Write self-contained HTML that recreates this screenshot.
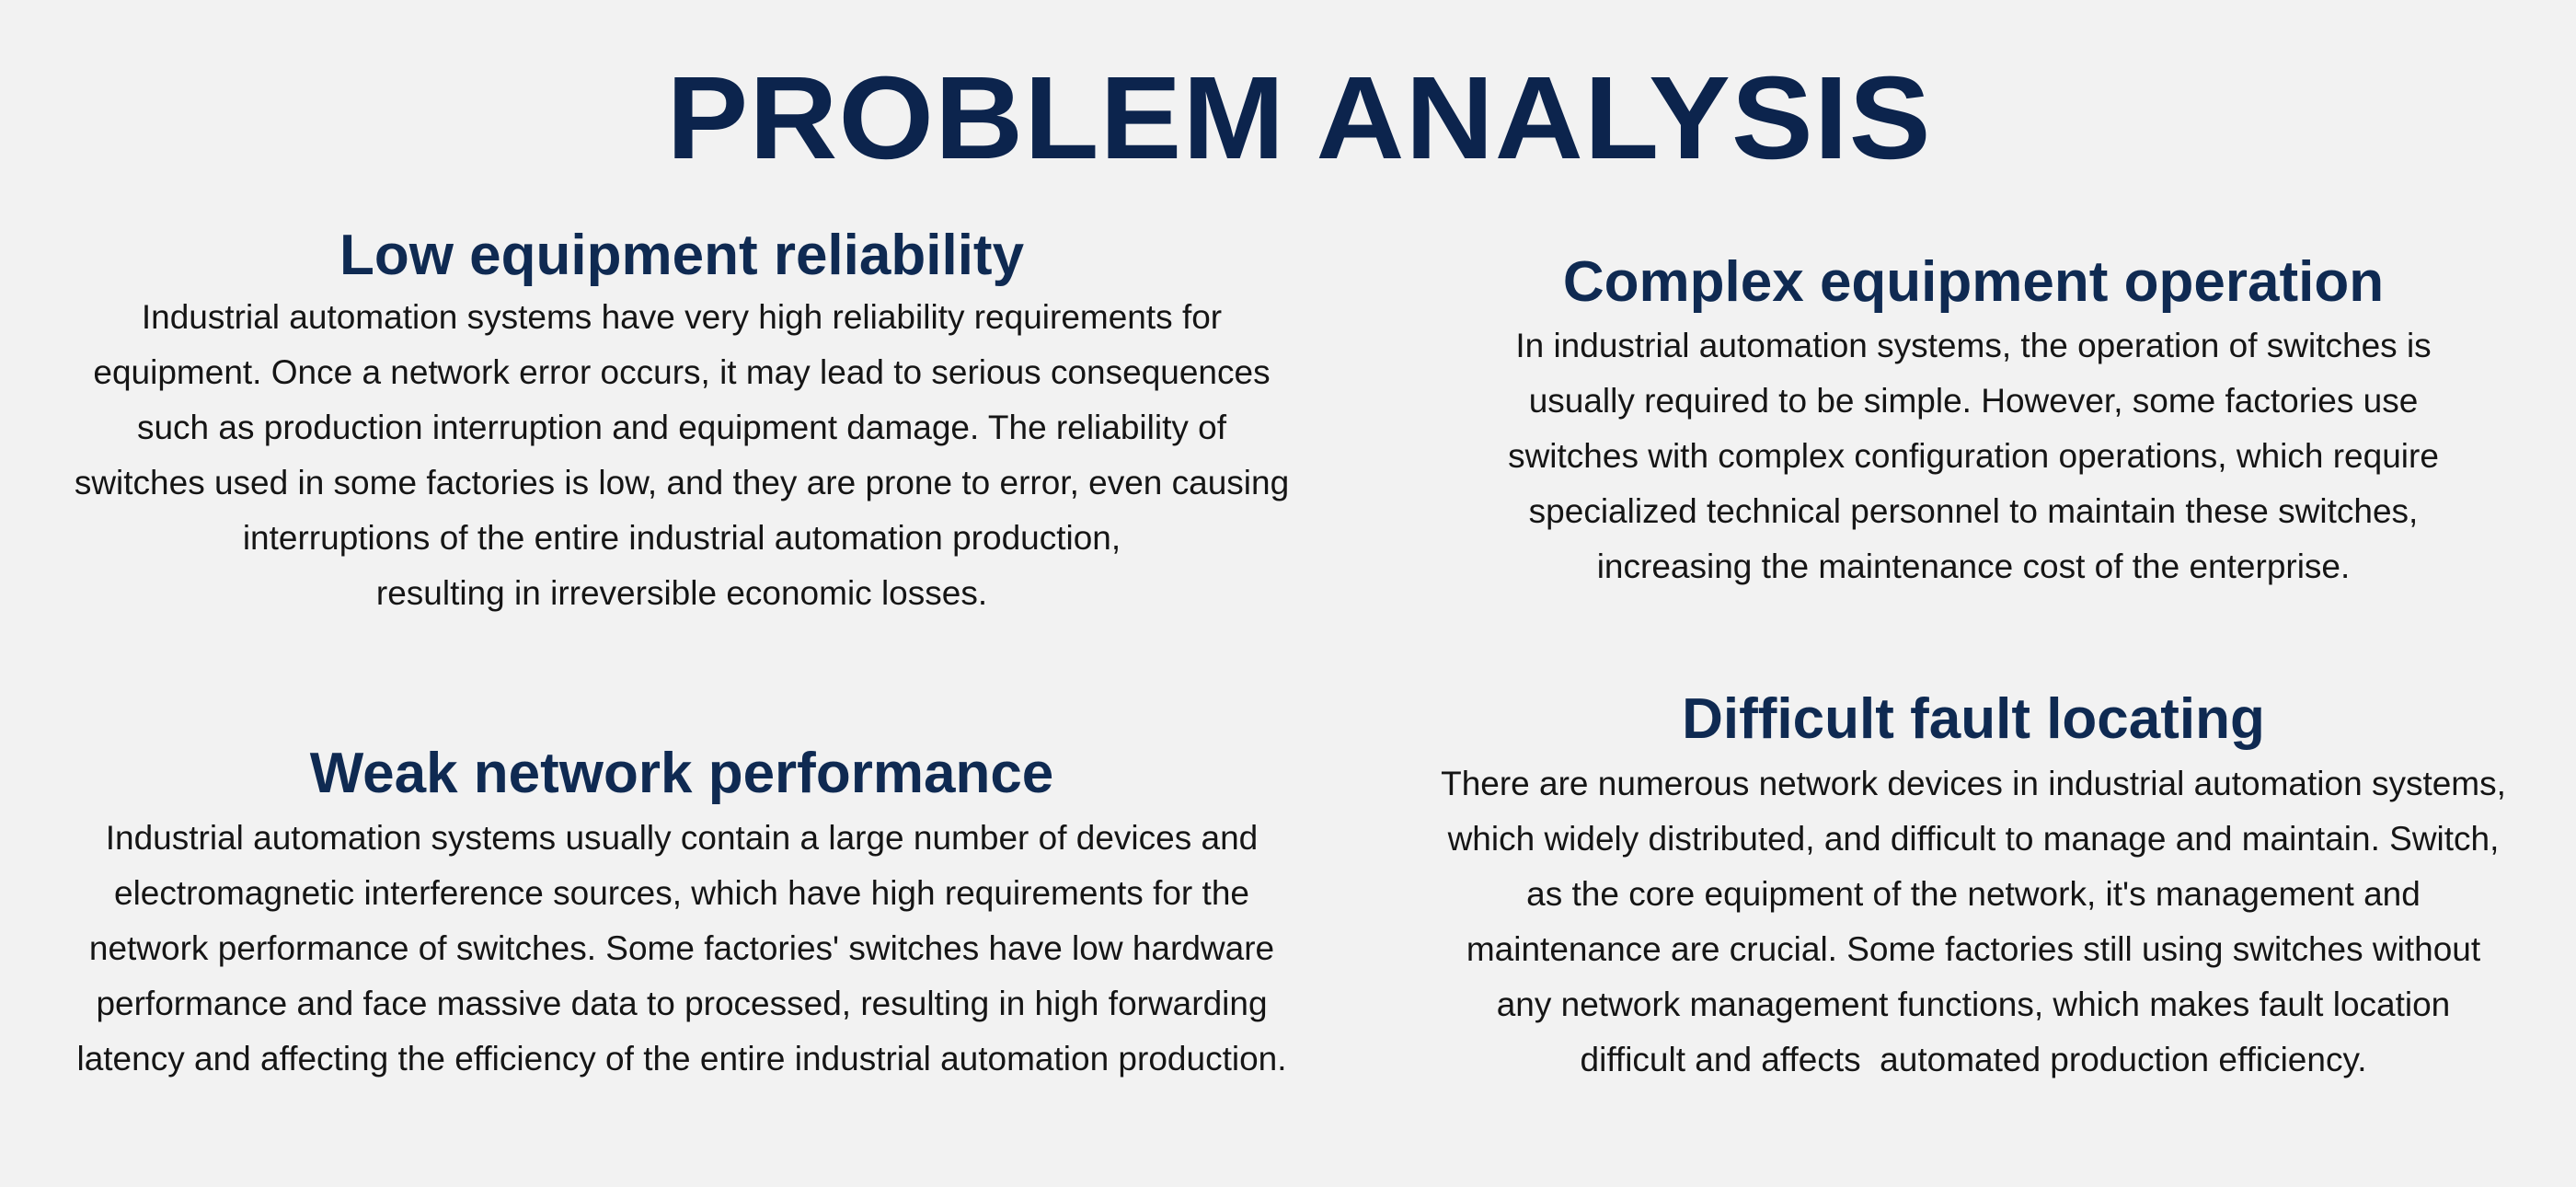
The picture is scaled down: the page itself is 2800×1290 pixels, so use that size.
<!DOCTYPE html>
<html><head><meta charset="utf-8"><style>
html,body{margin:0;padding:0}
body{width:2800px;height:1290px;background:#f2f2f2;position:relative;overflow:hidden;font-family:"Liberation Sans","DejaVu Sans",sans-serif}
.t{position:absolute;left:12px;width:2800px;top:65px;text-align:center;font-size:128px;line-height:128px;font-weight:bold;color:#0c244d;transform:scaleX(1.04);letter-spacing:1px}
.h{position:absolute;width:1400px;text-align:center;font-size:62px;line-height:70px;font-weight:bold;color:#0f2a52}
.b{position:absolute;width:1500px;text-align:center;font-size:37px;line-height:60px;color:#151515}
</style></head><body>
<div class="t">PROBLEM ANALYSIS</div>

<div class="h" style="left:41px;top:243px">Low equipment reliability</div>
<div class="b" style="left:-9px;top:315px">Industrial automation systems have very high reliability requirements for<br>equipment. Once a network error occurs, it may lead to serious consequences<br>such as production interruption and equipment damage. The reliability of<br>switches used in some factories is low, and they are prone to error, even causing<br>interruptions of the entire industrial automation production,<br>resulting in irreversible economic losses.</div>

<div class="h" style="left:1445px;top:272px">Complex equipment operation</div>
<div class="b" style="left:1395px;top:346px">In industrial automation systems, the operation of switches is<br>usually required to be simple. However, some factories use<br>switches with complex configuration operations, which require<br>specialized technical personnel to maintain these switches,<br>increasing the maintenance cost of the enterprise.</div>

<div class="h" style="left:41px;top:806px">Weak network performance</div>
<div class="b" style="left:-9px;top:881px">Industrial automation systems usually contain a large number of devices and<br>electromagnetic interference sources, which have high requirements for the<br>network performance of switches. Some factories' switches have low hardware<br>performance and face massive data to processed, resulting in high forwarding<br>latency and affecting the efficiency of the entire industrial automation production.</div>

<div class="h" style="left:1445px;top:747px">Difficult fault locating</div>
<div class="b" style="left:1395px;top:822px">There are numerous network devices in industrial automation systems,<br>which widely distributed, and difficult to manage and maintain. Switch,<br>as the core equipment of the network, it's management and<br>maintenance are crucial. Some factories still using switches without<br>any network management functions, which makes fault location<br>difficult and affects&nbsp; automated production efficiency.</div>
</body></html>
